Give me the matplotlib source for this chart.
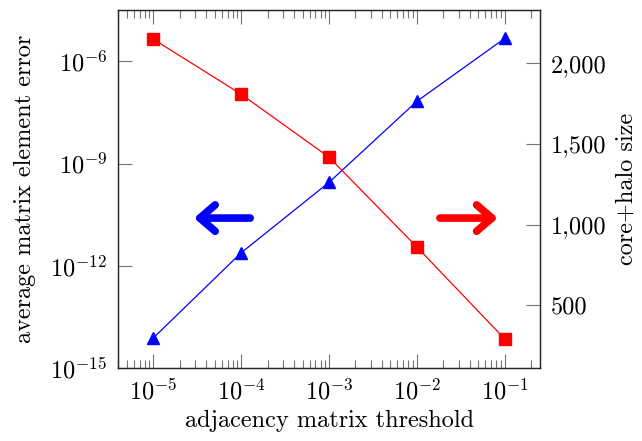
import numpy as np
import matplotlib
matplotlib.use('Agg')
import matplotlib.pyplot as plt
from matplotlib.ticker import FixedLocator, FuncFormatter, LogLocator, NullLocator

plt.rcParams['font.family'] = 'serif'
plt.rcParams['font.serif'] = ['cmr10']
plt.rcParams['mathtext.fontset'] = 'cm'
plt.rcParams['axes.unicode_minus'] = False

# data
threshold = [1e-5, 1e-4, 1e-3, 1e-2, 1e-1]
avg_error = [7.6e-15, 2.4e-12, 2.8e-10, 6.7e-8, 4.7e-6]
core_halo = [2151, 1809, 1418, 860, 289]

left_ticks = [1e-15, 1e-12, 1e-9, 1e-6]
right_ticks = [500, 1000, 1500, 2000]

FS = 17.5
tick_col = '0.45'

fig = plt.figure(figsize=(6.42, 4.41), dpi=100)
ax = fig.add_axes([0.184, 0.1655, 0.657, 0.8115])
ax2 = ax.twinx()

ax.plot(threshold, avg_error, color='#0000ff', lw=0.9, marker='^', ms=8, zorder=3)
ax2.plot(threshold, core_halo, color='#ff0000', lw=0.9, marker='s', ms=8, zorder=3)

ax.set_xscale('log')
ax.set_yscale('log')
ax.set_xlim(10**-5.4, 10**-0.6)
ax.set_ylim(1e-15, 10**-4.5)
ax2.set_ylim(109, 2331)

def pow10(v, pos):
    return r'$10^{%d}$' % int(round(np.log10(v)))

ax.xaxis.set_major_locator(FixedLocator(threshold))
ax.xaxis.set_minor_locator(LogLocator(base=10, subs=np.arange(2, 10)))
ax.xaxis.set_major_formatter(FuncFormatter(pow10))
ax.yaxis.set_major_locator(FixedLocator(left_ticks))
ax.yaxis.set_minor_locator(NullLocator())
ax.yaxis.set_major_formatter(FuncFormatter(pow10))
ax2.yaxis.set_major_locator(FixedLocator(right_ticks))
ax2.yaxis.set_major_formatter(FuncFormatter(lambda v, p: f'{v:,.0f}'))

ax.tick_params(axis='x', which='both', direction='in', top=True, bottom=True,
               color=tick_col, labelsize=FS, pad=8)
ax.tick_params(axis='x', which='major', length=10, width=0.8)
ax.tick_params(axis='x', which='minor', length=6, width=0.8)
ax.tick_params(axis='y', which='major', direction='in', left=True, right=False,
               length=10, width=0.8, color=tick_col, labelsize=FS, pad=8)
ax2.tick_params(axis='y', which='major', direction='in', length=10, width=0.8,
                color=tick_col, labelsize=FS, pad=8)

for a in (ax, ax2):
    for s in a.spines.values():
        s.set_linewidth(0.9)
        s.set_color('0.15')

ax.set_xlabel('adjacency matrix threshold', fontsize=FS, labelpad=4)
ax.set_ylabel('average matrix element error', fontsize=FS, labelpad=10)
ax2.set_ylabel('core+halo size', fontsize=FS, labelpad=6)

# direction arrows
arrow_style = '->,head_length=1.1,head_width=0.95'
ax.annotate('', xy=(0.180, 0.419), xytext=(0.313, 0.419), xycoords='axes fraction',
            arrowprops=dict(arrowstyle=arrow_style, color='#0000ff', lw=5.5,
                            capstyle='round', joinstyle='round', shrinkA=0, shrinkB=0))
ax.annotate('', xy=(0.900, 0.419), xytext=(0.763, 0.419), xycoords='axes fraction',
            arrowprops=dict(arrowstyle=arrow_style, color='#ff0000', lw=5.5,
                            capstyle='round', joinstyle='round', shrinkA=0, shrinkB=0))

fig.savefig('out.png', dpi=100)
